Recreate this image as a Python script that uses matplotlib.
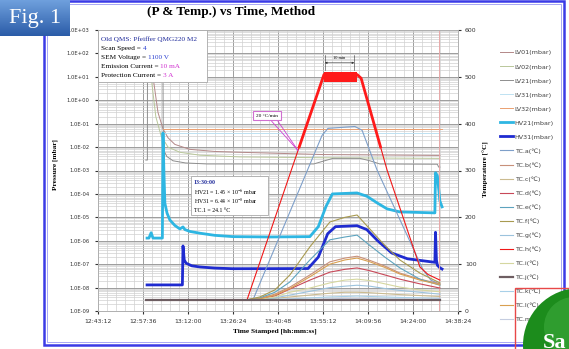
import numpy as np
import matplotlib.pyplot as plt
from matplotlib.patches import Rectangle, Circle
from matplotlib.colors import LinearSegmentedColormap
from matplotlib.ticker import LogLocator, MultipleLocator, NullFormatter

plt.rcParams['mathtext.fontset'] = 'stix'
SERIF = 'Liberation Serif'

# x values are minutes after 12:43:12
x_ticks = [0, 14.4, 28.8, 43.2, 57.6, 72.0, 86.4, 100.8, 115.2]
x_labels = ['12:43:12', '12:57:36', '13:12:00', '13:26:24', '13:40:48',
            '13:55:12', '14:09:56', '14:24:00', '14:38:24']
p_ticks = [1e-9, 1e-8, 1e-7, 1e-6, 1e-5, 1e-4, 1e-3, 1e-2, 1e-1, 1e0, 1e1, 1e2, 1e3]
p_labels = ['1.0E-09', '1.0E-08', '1.0E-07', '1.0E-06', '1.0E-05', '1.0E-04', '1.0E-03',
            '1.0E-02', '1.0E-01', '1.0E+00', '1.0E+01', '1.0E+02', '1.0E+03']
temp_ticks = [0, 100, 200, 300, 400, 500, 600]

# ---- pressure channels (mbar) ----
t_lv01 = [16.6, 17.6, 19.2, 20.8, 22.4, 24.6, 29.4, 37.4, 45.4, 72.0, 109.4]
p_lv01 = [1e3, 1e1, 3e-1, 6e-2, 2.5e-2, 1.3e-2, 8e-3, 6.5e-3, 6e-3, 4.8e-3, 4.4e-3]
t_lv02 = [16.0, 17.0, 18.5, 20.2, 22.4, 26.2, 32.6, 45.4, 72.0, 109.4]
p_lv02 = [1e3, 1e1, 2e-1, 3e-2, 1e-2, 6e-3, 4.5e-3, 3.8e-3, 3.5e-3, 3.3e-3]
t_lv21 = [15.3, 15.8, 15.85, 20.7, 20.9, 22.0, 24.0, 28.0, 35.0, 69.0, 72.5, 75.2,
          83.8, 87.0, 90.2, 108.6, 109.0, 109.4]
p_lv21 = [2.8e-3, 2.8e-3, 5e3, 5e3, 8e-3, 4e-3, 2.6e-3, 2.1e-3, 1.9e-3, 1.9e-3, 2.6e-3,
          3.3e-3, 3.3e-3, 2.6e-3, 1.9e-3, 1.85e-3, 1.4e-3, 1.4e-3]
t_lv31 = [20.8, 109.4]
p_lv31 = [4e-2, 4e-2]
t_lv32 = [20.8, 110.1]
p_lv32 = [6e-2, 6e-2]

t_hv21 = [15.7, 16.3, 17.0, 17.6, 20.6, 20.8, 21.1, 21.4, 22.1, 23.0, 24.6, 26.2, 27.2,
          27.8, 29.4, 32.6, 37.4, 43.2, 55.0, 67.8, 70.5, 73.0, 75.0, 82.9, 86.0, 89.5,
          92.5, 96.6, 107.8, 108.0, 108.6, 109.4, 110.1]
p_hv21 = [1.3e-6, 1.3e-6, 2.2e-6, 1.3e-6, 1.3e-6, 4e-2, 8e-4, 4e-5, 1.5e-5, 7.7e-6,
          4.5e-6, 3.2e-6, 3.9e-6, 3.0e-6, 2.5e-6, 2.1e-6, 1.7e-6, 1.5e-6, 1.45e-6,
          1.5e-6, 4e-6, 3e-5, 1e-4, 1.1e-4, 8e-5, 4e-5, 2.3e-5, 1.7e-5, 1.55e-5, 8e-4,
          6e-4, 5e-5, 2.8e-5]
t_hv31 = [15.7, 27.0, 27.2, 27.6, 28.2, 30.0, 32.6, 37.4, 43.2, 55.0, 67.2, 70.5, 73.5,
          76.0, 82.9, 86.0, 89.5, 94.0, 99.0, 107.8, 108.0, 108.3, 108.6, 109.4, 110.1]
p_hv31 = [1.3e-8, 1.3e-8, 6e-7, 1.5e-7, 1.1e-7, 8.5e-8, 7.6e-8, 6.8e-8, 6.4e-8, 6.44e-8,
          6.5e-8, 2e-7, 2e-6, 4e-6, 4.4e-6, 3e-6, 1e-6, 3e-7, 1.7e-7, 1.2e-7, 2.3e-6,
          1.5e-7, 9e-8, 7e-8, 6.2e-8]
t_end_marker = 109.2

# ---- thermocouples (deg C) ----
t_tc = [15.4, 47.7, 51.8, 56.6, 61.4, 67.8, 74.2, 79.0, 82.9, 87.0, 91.8, 96.6, 103.0, 109.4]
tc_b = [24, 24, 27, 36, 51, 77, 105, 113, 117, 108, 96, 81, 68, 58]
tc_c = [24, 24, 25, 27, 30, 34, 38, 40, 40, 39, 37, 35, 33, 31]
tc_d = [24, 24, 26, 32, 47, 66, 83, 89, 92, 86, 77, 68, 58, 49]
tc_e = [24, 24, 28, 40, 62, 109, 152, 158, 162, 140, 115, 92, 68, 55]
tc_f = [24, 24, 30, 45, 77, 137, 190, 200, 205, 175, 140, 109, 81, 60]
tc_g = [24, 24, 25, 28, 34, 42, 50, 53, 55, 53, 48, 44, 40, 36]
tc_i = [24, 24, 25, 30, 40, 49, 60, 66, 68, 65, 58, 51, 45, 41]
tc_j = [24.1, 24.1, 24.1, 24.1, 24.1, 24.1, 24.1, 24.1, 24.1, 24.1, 24.1, 24.1, 24.1, 24.1]
tc_k = [24, 24, 24, 25, 26, 28, 30, 31, 32, 31, 30, 29, 28, 27]
tc_l = [24, 24, 26, 34, 48, 73, 100, 109, 113, 105, 93, 79, 66, 56]
tc_m = [24, 24, 24, 24, 25, 25, 26, 27, 27, 27, 26, 26, 25, 25]
t_tca = [15.4, 49.6, 71.7, 73.6, 82.2, 84.5, 89.3, 104.0, 106.5, 109.4]
tc_a = [24, 24, 375, 390, 394, 386, 301, 88, 66, 57]
t_tch = [15.4, 47.7, 72.3, 82.9, 84.2, 92.5, 103.0, 105.6, 109.4]
tc_h = [24, 24, 505, 505, 497, 301, 94, 78, 66]
t_band = [72.3, 82.9]
band_lo = [490, 490]
band_hi = [511, 511]

W, H = 569, 349


def fx(px):
    return px / W


def fy(py):
    return 1 - py / H


fig = plt.figure(figsize=(W / 100, H / 100), dpi=100)
ax = fig.add_axes([fx(98), fy(311), fx(458) - fx(98), fy(30) - fy(311)])
ax2 = ax.twinx()

# pressure lines
lw_thin = 0.7
handles = []
handles += ax.plot(t_lv01, p_lv01, color='#B38888', lw=lw_thin, label='LV01(mbar)')
handles += ax.plot(t_lv02, p_lv02, color='#B9C79A', lw=lw_thin, label='LV02(mbar)')
handles += ax.plot(t_lv21, p_lv21, color='#8E8E8E', lw=lw_thin, label='LV21(mbar)')
handles += ax.plot(t_lv31, p_lv31, color='#BFE2F2', lw=lw_thin, label='LV31(mbar)')
handles += ax.plot(t_lv32, p_lv32, color='#EBA070', lw=lw_thin, label='LV32(mbar)')
handles += ax.plot(t_hv21, p_hv21, color='#2EB6E2', lw=2.0, label='HV21(mbar)')
handles += ax.plot(t_hv31, p_hv31, color='#1F2BD0', lw=2.0, label='HV31(mbar)')
ax.axvline(t_end_marker, color='#E8A8A8', lw=0.7)

# temperature lines
tc_series = [('TC.a', t_tca, tc_a, '#7E9FC9'), ('TC.b', t_tc, tc_b, '#C8907A'),
             ('TC.c', t_tc, tc_c, '#CBBB90'), ('TC.d', t_tc, tc_d, '#C84858'),
             ('TC.e', t_tc, tc_e, '#5DA3BE'), ('TC.f', t_tc, tc_f, '#A89A50'),
             ('TC.g', t_tc, tc_g, '#9CC3DD'), ('TC.h', t_tch, tc_h, '#F01818'),
             ('TC.i', t_tc, tc_i, '#D5D7A0'), ('TC.j', t_tc, tc_j, '#6E5E62'),
             ('TC.k', t_tc, tc_k, '#A8D0E8'), ('TC.l', t_tc, tc_l, '#D9A050'),
             ('TC.m', t_tc, tc_m, '#C5CDE0')]
for name, tx, ty, col in tc_series:
    lw = 1.6 if name == 'TC.j' else 0.8
    z = 3 if name == 'TC.j' else 2
    handles += ax2.plot(tx, ty, color=col, lw=lw, zorder=z, label=name + '(\u2103)')

# hot part of the heater trace is noisy -> thicker
tt = np.linspace(t_tch[0], t_tch[-1], 3000)
rr = np.interp(tt, t_tch, tc_h)
rr[rr < 350] = np.nan
ax2.plot(tt, rr, color='#FF1A1A', lw=2.0, zorder=3)
ax2.fill_between(t_band, band_lo, band_hi, color='#FF1A1A', lw=0, zorder=3)

# axes setup
ax.set_xlim(0, 115.2)
ax.set_yscale('log')
ax.set_ylim(1e-9, 1e3)
ax2.set_ylim(0, 600)
ax.set_xticks(x_ticks)
ax.set_xticklabels(x_labels)
ax.xaxis.set_minor_locator(MultipleLocator(2.88))
ax.set_yticks(p_ticks)
ax.set_yticklabels(p_labels)
ax.yaxis.set_minor_locator(LogLocator(base=10, subs=np.arange(2, 10), numticks=100))
ax.yaxis.set_minor_formatter(NullFormatter())
ax2.set_yticks(temp_ticks)
ax.grid(which='major', color='#9C9C9C', lw=0.7)
ax.grid(which='minor', color='#D0D0D0', lw=0.5)
ax.set_axisbelow(True)
ax.tick_params(which='minor', length=0)
ax.tick_params(axis='x', labelsize=4.4, length=2, pad=4, colors='#333333')
ax.tick_params(axis='y', labelsize=3.8, length=2, pad=4, colors='#333333')
ax2.tick_params(axis='y', labelsize=4.4, length=2, pad=3, colors='#333333')
for a in (ax, ax2):
    for s in a.spines.values():
        s.set_color('#B0B0B0')
        s.set_linewidth(0.6)

ax.set_xlabel('Time Stamped [hh:mm:ss]', family=SERIF, fontweight='bold', fontsize=5.3)
ax.xaxis.set_label_coords(0.49, -0.062)
ax.set_ylabel('Pressure [mbar]', family=SERIF, fontweight='bold', fontsize=5.3)
ax.yaxis.set_label_coords(-0.112, 0.52)
ax2.set_ylabel('Temperature [\u00b0C]', family=SERIF, fontweight='bold', fontsize=5.3, rotation=90)
ax2.yaxis.set_label_coords(1.07, 0.505)

fig.text(fx(231), fy(12), '(P & Temp.) vs Time, Method', family=SERIF, fontweight='bold',
         fontsize=9.5, ha='center', va='center')


# info boxes
def mixed_line(a, x, y, parts, size, weight='normal'):
    t = a.text(x, y, parts[0][0], color=parts[0][1], transform=a.transAxes, fontsize=size,
               family=SERIF, fontweight=weight, va='baseline', ha='left', zorder=7)
    for s, c in parts[1:]:
        t = a.annotate(s, xy=(1, 0), xycoords=t, color=c, fontsize=size, family=SERIF,
                       va='bottom', ha='left', zorder=7)
    return t


def box(a, x0, y0, x1, y1):
    a.add_patch(Rectangle((x0, y0), x1 - x0, y1 - y0, transform=a.transAxes, fc='white',
                          ec='#A8A8A8', lw=0.6, zorder=6))


def ax_x(px):
    return (px - 98) / 360


def ax_y(py):
    return (311 - py) / 281


blue, mag = '#2A3FD0', '#D030D0'
box(ax2, ax_x(98), ax_y(82), ax_x(207), ax_y(30))
info1 = [[('Old QMS: Pfeiffer QMG220 M2', '#1E2A9A')],
         [('Scan Speed = ', 'black'), ('4', blue)],
         [('SEM Voltage = ', 'black'), ('1100 V', blue)],
         [('Emission Current = ', 'black'), ('10 mA', mag)],
         [('Protection Current = ', 'black'), ('3 A', mag)]]
for i, parts in enumerate(info1):
    mixed_line(ax2, ax_x(101), ax_y(41 + 9 * i), parts, 5.2)

box(ax2, ax_x(191), ax_y(215), ax_x(268), ax_y(176))
info2 = [[('13:30:00', '#1E2A9A')],
         [('HV21 = 1.45 \u00d7 10$^{-6}$ mbar', 'black')],
         [('HV31 = 6.44 \u00d7 10$^{-8}$ mbar', 'black')],
         [('TC.1 = 24.1 \u00b0C', 'black')]]
for i, y in enumerate([184, 195, 203.5, 211.5]):
    mixed_line(ax2, ax_x(194), ax_y(y), info2[i], 4.2, 'bold' if i == 0 else 'normal')

# 20 C/min callout
ax2.text(54.1, 417, '20 \u00b0C/min', family=SERIF, fontsize=3.8, ha='center', va='center',
         zorder=7, bbox=dict(boxstyle='square,pad=0.5', fc='white', ec='#D070D0', lw=0.8))
for xs in (55.6, 57.6):
    ax2.plot([xs, 64.0], [405, np.interp(64.0, t_tch, tc_h)], color='#D040D0', lw=0.6, zorder=4)

# 10 min dimension above plateau
ax2.annotate('', xy=(t_band[0] + 0.3, 530), xytext=(t_band[1] - 0.9, 530),
             arrowprops=dict(arrowstyle='<|-|>', lw=0.4, color='#333333', mutation_scale=3,
                             shrinkA=0, shrinkB=0), zorder=5)
for xs in (t_band[0] + 0.3, t_band[1] - 0.9):
    ax2.plot([xs, xs], [514, 547], color='#333333', lw=0.4, zorder=5)
ax2.text(np.mean(t_band) - 0.3, 537, '10 min', fontsize=3.2, family=SERIF, ha='center',
         va='bottom', zorder=5)

# legend
leg = fig.legend(handles=handles, labels=[h.get_label() for h in handles], loc='upper left',
                 bbox_to_anchor=(fx(500), fy(50)), frameon=False, fontsize=4.6,
                 handlelength=2.0, handletextpad=0.3, labelspacing=1.34, borderpad=0,
                 borderaxespad=0)
for txt in leg.get_texts():
    txt.set_color('#404040')

# outer blue frame
fig.add_artist(Rectangle((fx(44), fy(345)), fx(564) - fx(44), fy(1) - fy(345),
                         transform=fig.transFigure, fill=False, ec='#3B3BE6', lw=1.8, zorder=2))
fig.add_artist(Rectangle((fx(47), fy(342)), fx(561) - fx(47), fy(4) - fy(342),
                         transform=fig.transFigure, fill=False, ec='#A8A8F4', lw=0.7, zorder=2))

# bottom-right red box and green badge
fig.add_artist(Rectangle((fx(515), -0.1), 0.3, fy(288) + 0.1, transform=fig.transFigure,
                         fill=False, ec='#E84848', lw=1.0, zorder=10))
fig.add_artist(Circle((5.80, 0.04), 0.57, transform=fig.dpi_scale_trans, fc='#1C8C1C',
                      ec='none', zorder=11))
fig.add_artist(Circle((5.74, 0.22), 0.30, transform=fig.dpi_scale_trans, fc='#3DAA3D',
                      ec='none', zorder=11, alpha=0.6))
fig.text(fx(543), fy(348), 'Sa', color='white', fontsize=16, fontweight='bold', family=SERIF,
         va='baseline', ha='left', zorder=12)

# "Fig. 1" badge
axf = fig.add_axes([0, fy(36), fx(70), fy(0) - fy(36)])
axf.imshow(np.linspace(0, 1, 60)[:, None], aspect='auto', extent=[0, 1, 0, 1],
           cmap=LinearSegmentedColormap.from_list('fig', ['#6FA0DD', '#2B5CA8']))
axf.text(0.5, 0.48, 'Fig. 1', color='white', family=SERIF, fontsize=16, ha='center', va='center')
axf.axis('off')
axf.set_zorder(20)

fig.savefig('out.png', dpi=100)
